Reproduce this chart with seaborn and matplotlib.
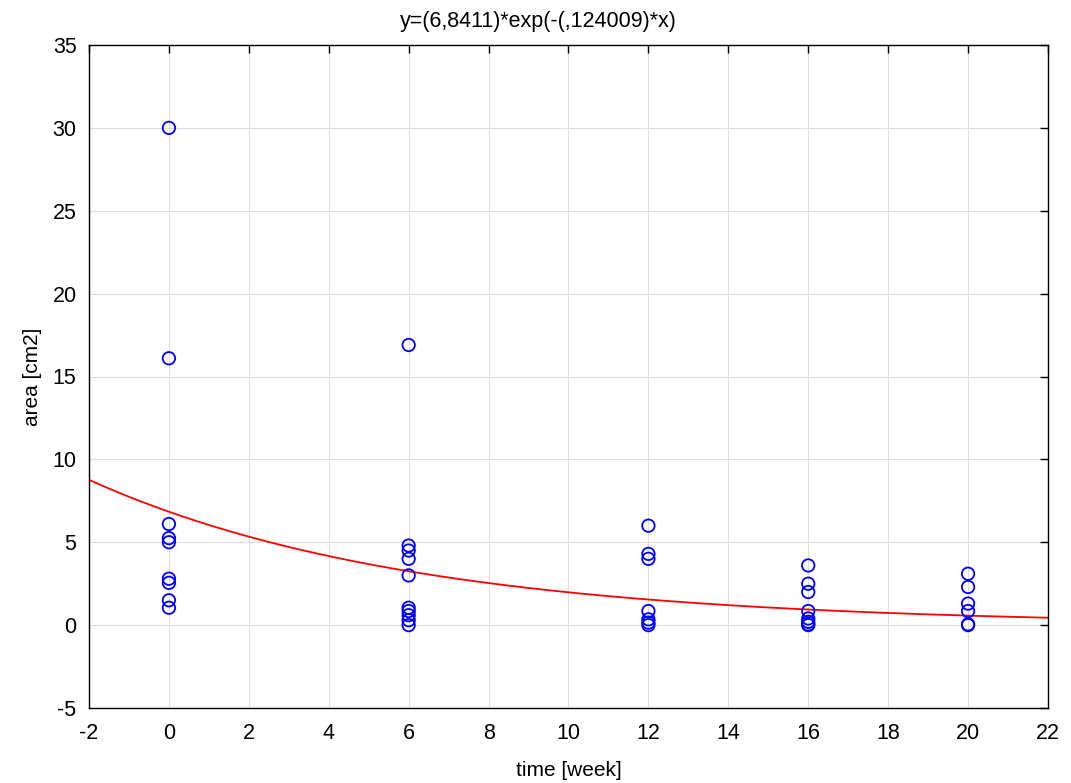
import numpy as np
import pandas as pd
import matplotlib
matplotlib.use("Agg")
import matplotlib.pyplot as plt
import seaborn as sns

# Data
week0 = [30.0, 16.1, 6.1, 5.25, 5.0, 2.8, 2.55, 1.5, 1.05]
week6 = [16.9, 4.8, 4.5, 4.0, 3.0, 1.05, 0.85, 0.6, 0.3, 0.0]
week12 = [6.0, 4.3, 4.0, 0.85, 0.35, 0.15, 0.0]
week16 = [3.6, 2.5, 2.0, 0.85, 0.4, 0.2, 0.05, 0.0]
week20 = [3.1, 2.3, 1.3, 0.85, 0.05, 0.0]
times = [0, 6, 12, 16, 20]
fit_a = 6.8411
fit_b = 0.124009
xticks = list(range(-2, 23, 2))
yticks = list(range(-5, 36, 5))
title = "y=(6,8411)*exp(-(,124009)*x)"

groups = [week0, week6, week12, week16, week20]
rows = []
for t, vals in zip(times, groups):
    for v in vals:
        rows.append({"time": t, "area": v})
df = pd.DataFrame(rows)

xs = np.linspace(-2, 22, 300)
fit = pd.DataFrame({"time": xs, "area": fit_a * np.exp(-fit_b * xs)})

sns.set_theme(style="white")
plt.rcParams['font.family'] = ['Liberation Sans', 'DejaVu Sans']
plt.rcParams['text.color'] = 'black'
plt.rcParams['axes.labelcolor'] = 'black'

fig = plt.figure(figsize=(10.71, 7.83), dpi=100)
ax = fig.add_axes([89/1071, 1 - 708/783, (1048-89)/1071, (708-45)/783])

sns.lineplot(data=fit, x="time", y="area", ax=ax, color="red", linewidth=1.3, zorder=2)
sns.scatterplot(data=df, x="time", y="area", ax=ax, marker="o", s=80,
                facecolors="none", edgecolor="blue", linewidth=1.3, zorder=3)

ax.set_xlim(-2, 22)
ax.set_ylim(-5, 35)
ax.set_xticks(xticks)
ax.set_yticks(yticks)
ax.set_xticklabels([str(v) for v in xticks])
ax.set_yticklabels([str(v) for v in yticks])
ax.grid(True, color="#dddddd", linewidth=0.8)
ax.set_axisbelow(True)
for s in ax.spines.values():
    s.set_color("black")
    s.set_linewidth(1.0)
ax.tick_params(direction="in", length=6, width=1, top=True, right=True,
               labelsize=15.5, colors="black")
ax.tick_params(axis="x", pad=11)
ax.tick_params(axis="y", pad=9)
ax.set_xlabel("time [week]", fontsize=15, labelpad=12, color="black")
ax.set_ylabel("area [cm2]", fontsize=15, labelpad=7.5, color="black")
fig.text(538/1071, 1 - 21/783, title, fontsize=15.5, color="black",
         ha="center", va="center")

fig.savefig("out.png", dpi=100)
